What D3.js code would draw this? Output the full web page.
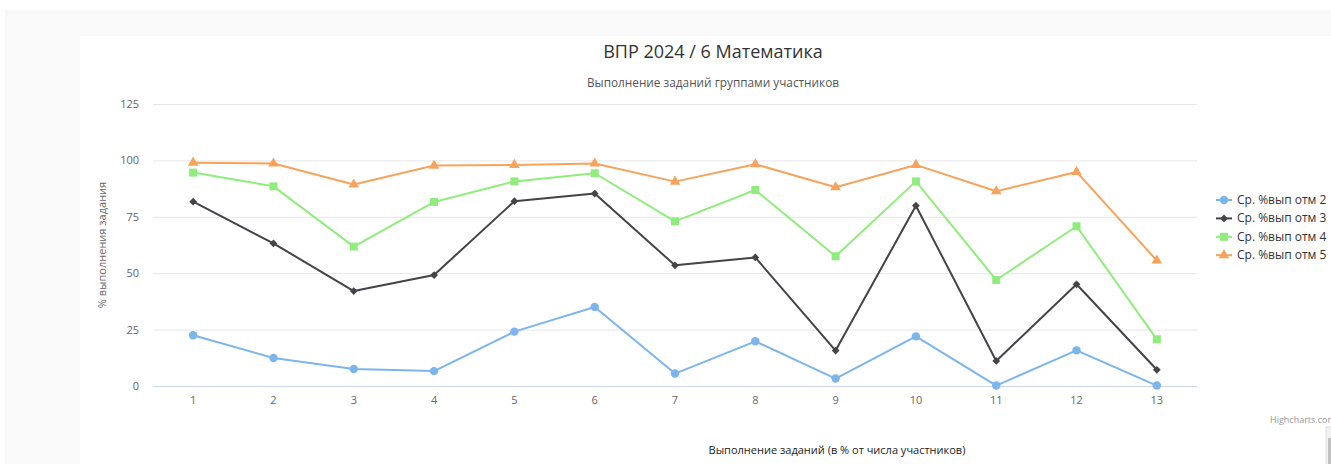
<!DOCTYPE html>
<html><head><meta charset="utf-8">
<script src="https://cdn.jsdelivr.net/npm/d3@7"></script>
<style>
html,body{margin:0;padding:0;background:#fff;overflow:hidden;}
svg{display:block;font-family:"Open Sans",sans-serif;}
</style></head>
<body><svg id="c" width="1331" height="464"></svg>
<script>
const categories = ["1","2","3","4","5","6","7","8","9","10","11","12","13"];
const seriesNames = ["Ср. %вып отм 2","Ср. %вып отм 3","Ср. %вып отм 4","Ср. %вып отм 5"];
const grade2 = [22.5,12.4,7.5,6.6,24.1,35.0,5.5,19.8,3.3,22.0,0.2,15.8,0.2];
const grade3 = [81.7,63.2,42.1,49.2,81.9,85.3,53.5,57.0,15.7,79.9,11.1,45.1,7.2];
const grade4 = [94.6,88.5,61.8,81.6,90.7,94.3,73.0,86.9,57.5,90.7,47.0,70.8,20.7];
const grade5 = [99.0,98.6,89.3,97.7,98.0,98.6,90.6,98.3,88.1,98.0,86.3,94.9,55.6];
const yTicks = [0,25,50,75,100,125];
const titleText = "ВПР 2024 / 6 Математика";
const subtitleText = "Выполнение заданий группами участников";
const yTitle = "% выполнения задания";
const xTitle = "Выполнение заданий (в % от числа участников)";

const colors = ["#7cb5ec","#434348","#90ed7d","#f7a35c"];
const symbols = [d3.symbolCircle, d3.symbolSquare, d3.symbolSquare, d3.symbolTriangle];
const symSizes = [56, 30, 64, 48];
const symRot = [0, 45, 0, 0];
const allSeries = [grade2, grade3, grade4, grade5];

const svg = d3.select("#c");
// backgrounds
svg.append("rect").attr("x",5).attr("y",10).attr("width",1326).attr("height",454).attr("fill","#f9f9f9");
svg.append("rect").attr("x",80).attr("y",36).attr("width",1266).attr("height",440).attr("fill","#fff");

const L=153, R=1197, T=104, B=386;
const x = d3.scaleBand().domain(categories).range([L,R]);
const y = d3.scaleLinear().domain([0,125]).range([B,T]);

// grid
const gy = svg.append("g").attr("transform",`translate(${L},0)`)
  .call(d3.axisLeft(y).tickValues(yTicks).tickSize(-(R-L)).tickPadding(14));
gy.select(".domain").remove();
gy.selectAll(".tick line").attr("stroke",d=>d===0?"#ccd6eb":"#e6e6e6").attr("stroke-width",1);
gy.selectAll(".tick text").attr("fill","#666").attr("font-size","11px").attr("font-family","Open Sans");

const gx = svg.append("g").attr("transform",`translate(0,${B})`)
  .call(d3.axisBottom(x).tickSize(0).tickPadding(10));
gx.select(".domain").remove();
gx.selectAll(".tick text").attr("fill","#666").attr("font-size","11px").attr("font-family","Open Sans");

// titles
svg.append("text").attr("x",713).attr("y",58).attr("text-anchor","middle")
  .attr("font-size","18px").attr("fill","#333").text(titleText);
svg.append("text").attr("x",713).attr("y",87).attr("text-anchor","middle")
  .attr("font-size","11.8px").attr("fill","#555").text(subtitleText);
svg.append("text").attr("transform",`translate(106,${(T+B)/2}) rotate(-90)`).attr("text-anchor","middle")
  .attr("font-size","11px").attr("fill","#666").text(yTitle);
svg.append("text").attr("x",837).attr("y",454).attr("text-anchor","middle")
  .attr("font-size","11px").attr("fill","#222").text(xTitle);

// series
const line = d3.line().x((d,i)=>x(categories[i])+x.bandwidth()/2).y(d=>y(d));
allSeries.forEach((s,k)=>{
  svg.append("path").datum(s).attr("d",line).attr("fill","none")
    .attr("stroke",colors[k]).attr("stroke-width",2).attr("stroke-linejoin","round");
  svg.append("g").selectAll("path").data(s).join("path")
    .attr("transform",(d,i)=>`translate(${x(categories[i])+x.bandwidth()/2},${y(d)}) rotate(${symRot[k]})`)
    .attr("d",d3.symbol().type(symbols[k]).size(symSizes[k])).attr("fill",colors[k]);
});

// legend
const lg = svg.append("g");
seriesNames.forEach((n,k)=>{
  const cy = 200 + k*18.4;
  lg.append("line").attr("x1",1216).attr("x2",1232).attr("y1",cy).attr("y2",cy)
    .attr("stroke",colors[k]).attr("stroke-width",2);
  lg.append("path").attr("transform",`translate(1224,${cy}) rotate(${symRot[k]})`)
    .attr("d",d3.symbol().type(symbols[k]).size(symSizes[k])).attr("fill",colors[k]);
  lg.append("text").attr("x",1237).attr("y",cy+4).attr("font-size","12px").attr("fill","#333").text(n);
});

// credit
svg.append("text").attr("x",1270).attr("y",423).attr("font-size","9px").attr("fill","#999").text("Highcharts.com");
// scrollbar fragment
svg.append("rect").attr("x",1326).attr("y",427).attr("width",6).attr("height",40).attr("fill","#f1f1f1").attr("stroke","#e0e0e0");
svg.append("rect").attr("x",1328).attr("y",438).attr("width",4).attr("height",30).attr("fill","#c1c1c1");
</script></body></html>
